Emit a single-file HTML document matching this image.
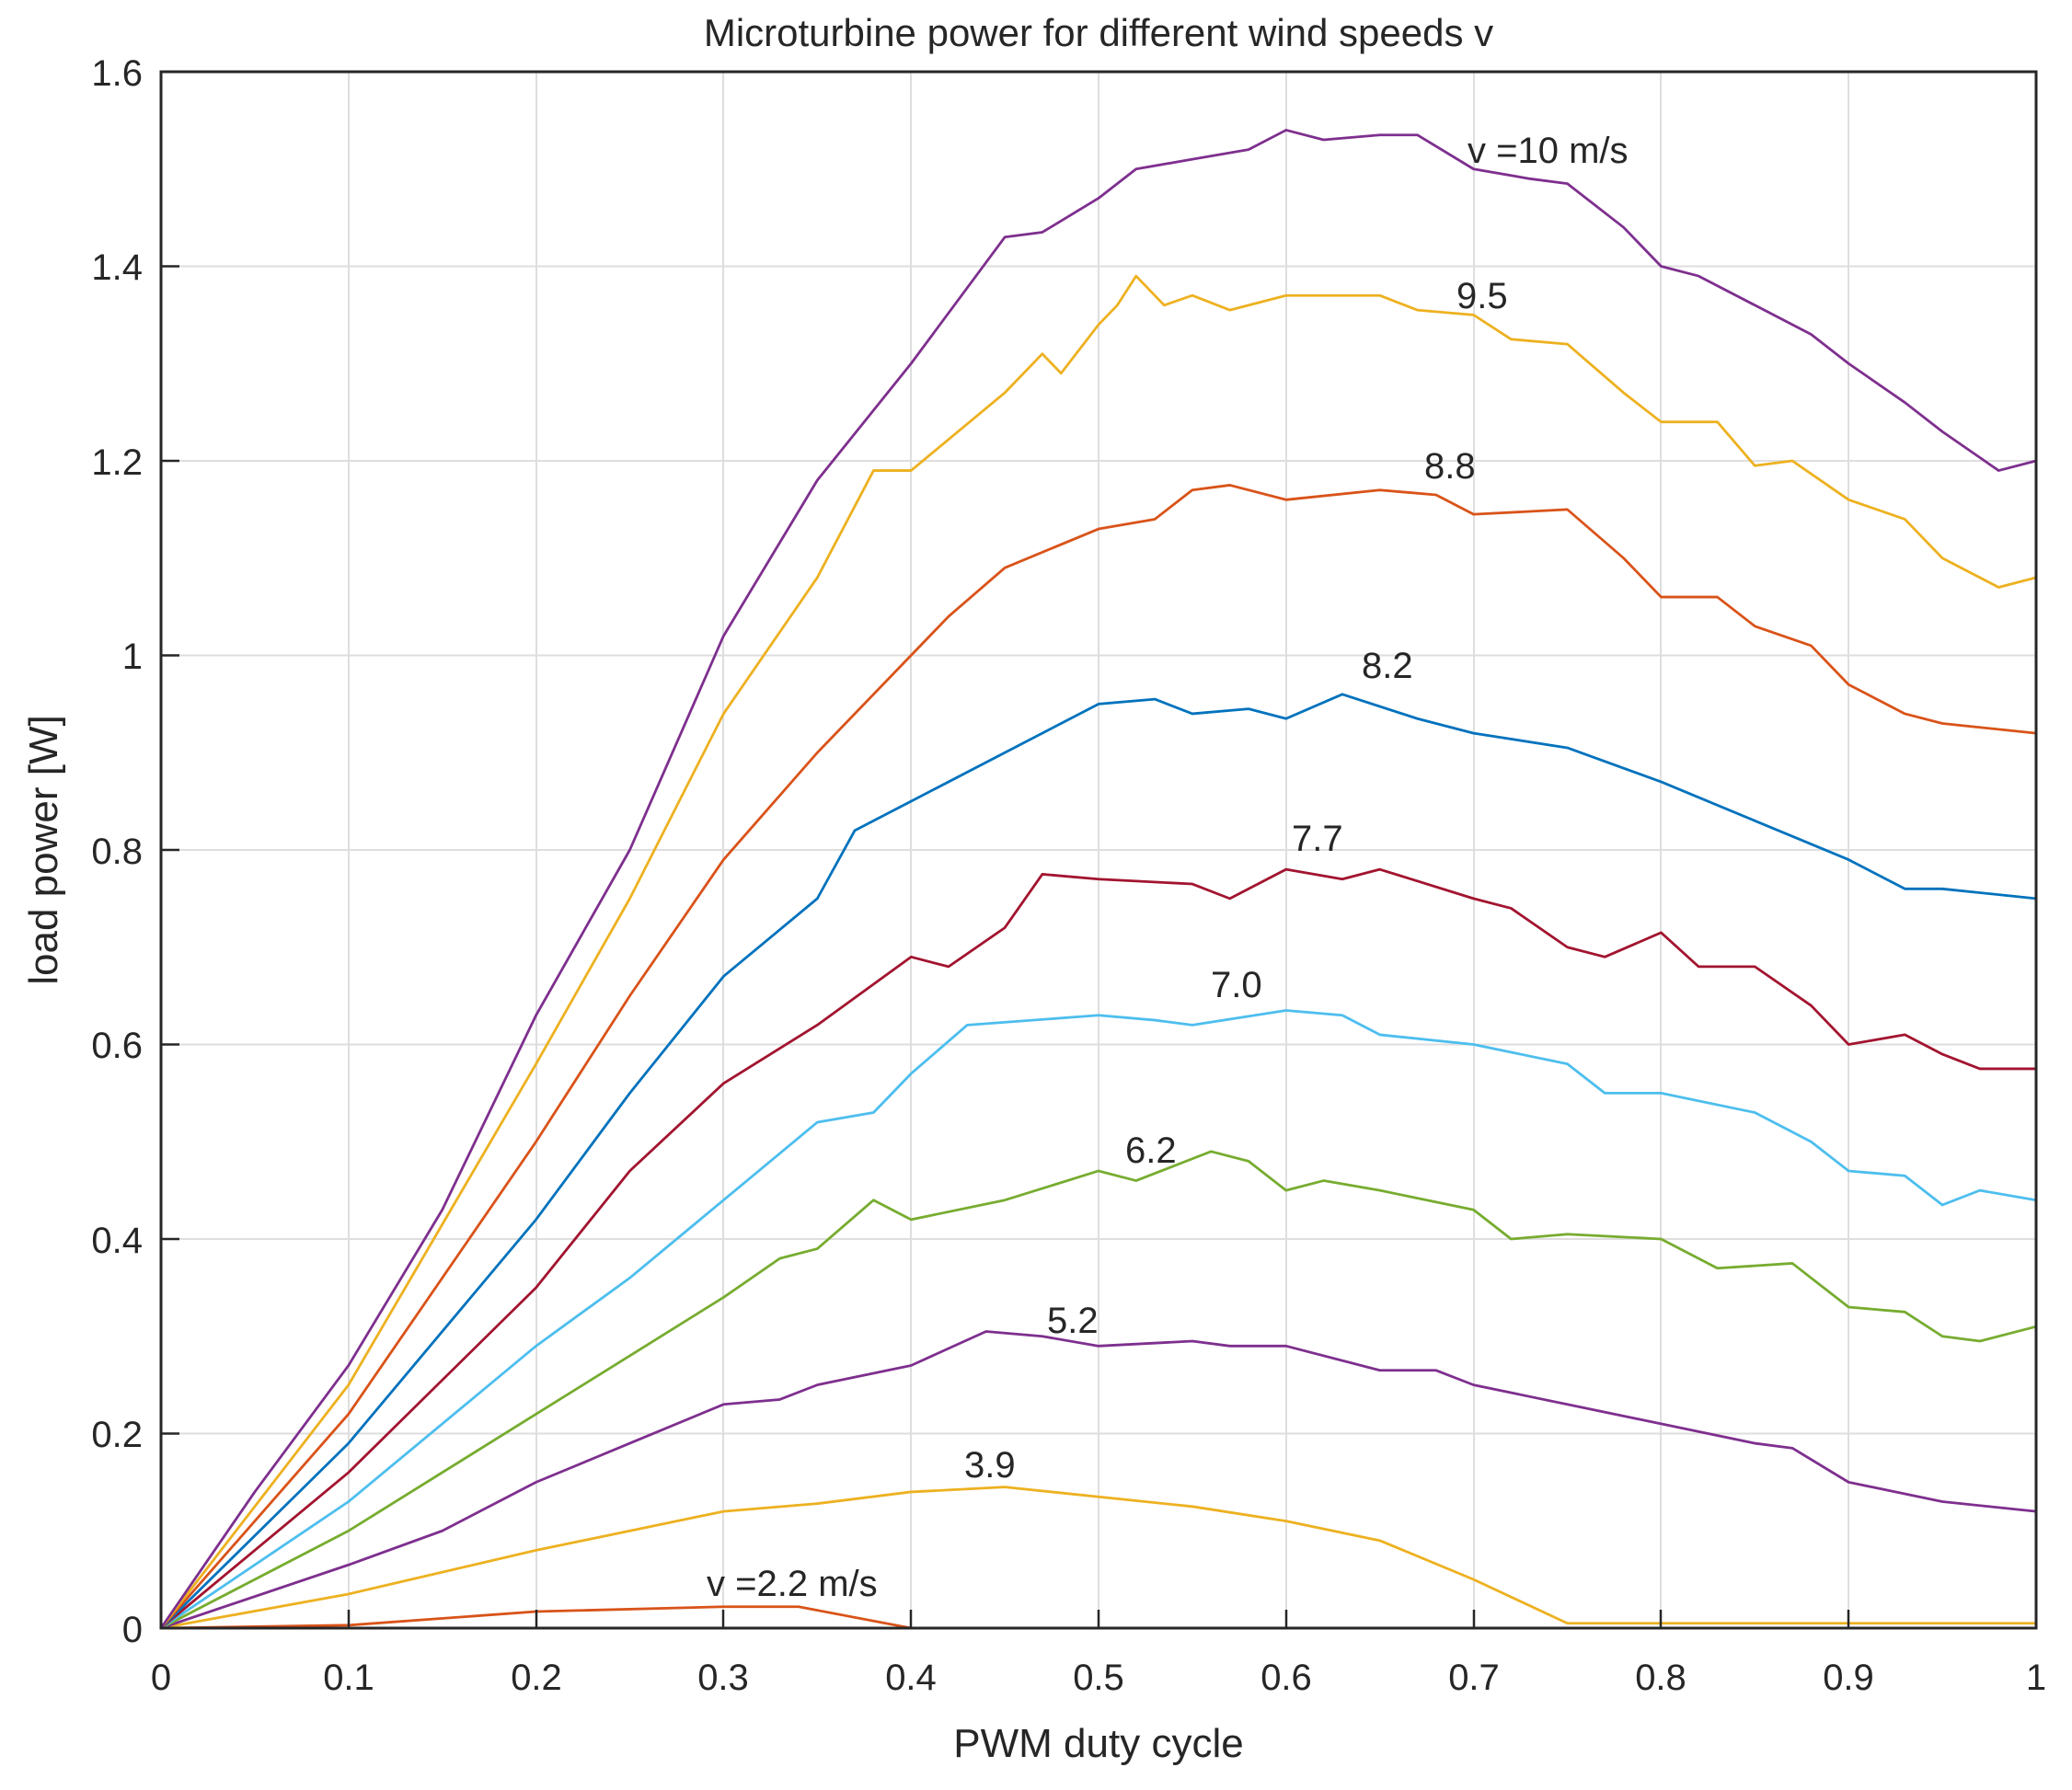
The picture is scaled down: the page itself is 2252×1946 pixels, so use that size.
<!DOCTYPE html>
<html><head><meta charset="utf-8"><style>
html,body{margin:0;padding:0;background:#fff}
svg{display:block}
text{font-family:"Liberation Sans",Arial,sans-serif;fill:#262626}
</style></head><body>
<svg width="2252" height="1946" viewBox="0 0 2252 1946" xmlns="http://www.w3.org/2000/svg">
<rect width="2252" height="1946" fill="#fff"/>
<g stroke="#dedede" stroke-width="2">
<line x1="379" y1="78" x2="379" y2="1770"/><line x1="583" y1="78" x2="583" y2="1770"/>
<line x1="786" y1="78" x2="786" y2="1770"/><line x1="990" y1="78" x2="990" y2="1770"/>
<line x1="1194" y1="78" x2="1194" y2="1770"/><line x1="1398" y1="78" x2="1398" y2="1770"/>
<line x1="1602" y1="78" x2="1602" y2="1770"/><line x1="1805" y1="78" x2="1805" y2="1770"/>
<line x1="2009" y1="78" x2="2009" y2="1770"/>
<line x1="175" y1="1558.5" x2="2213" y2="1558.5"/><line x1="175" y1="1347" x2="2213" y2="1347"/>
<line x1="175" y1="1135.5" x2="2213" y2="1135.5"/><line x1="175" y1="924" x2="2213" y2="924"/>
<line x1="175" y1="712.5" x2="2213" y2="712.5"/><line x1="175" y1="501" x2="2213" y2="501"/>
<line x1="175" y1="289.5" x2="2213" y2="289.5"/>
</g>
<g transform="translate(175,1770) scale(2038,-1057.5)" fill="none" stroke-width="2.8" stroke-linejoin="round">
<polyline vector-effect="non-scaling-stroke" stroke="#D95319" points="0,0 .1,.003 .2,.017 .3,.022 .34,.022 .4,0 1,0"/>
<polyline vector-effect="non-scaling-stroke" stroke="#EDB120" points="0,0 .1,.035 .2,.08 .3,.12 .35,.128 .4,.14 .45,.145 .5,.135 .55,.125 .6,.11 .65,.09 .7,.05 .75,.005 1,.005"/>
<polyline vector-effect="non-scaling-stroke" stroke="#7E2F8E" points="0,0 .1,.065 .15,.1 .2,.15 .25,.19 .3,.23 .33,.235 .35,.25 .4,.27 .44,.305 .47,.3 .5,.29 .55,.295 .57,.29 .6,.29 .65,.265 .68,.265 .7,.25 .75,.23 .8,.21 .85,.19 .87,.185 .9,.15 .95,.13 1,.12"/>
<polyline vector-effect="non-scaling-stroke" stroke="#77AC30" points="0,0 .1,.1 .2,.22 .25,.28 .3,.34 .33,.38 .35,.39 .38,.44 .4,.42 .45,.44 .5,.47 .52,.46 .56,.49 .58,.48 .6,.45 .62,.46 .65,.45 .7,.43 .72,.4 .75,.405 .8,.4 .83,.37 .87,.375 .9,.33 .93,.325 .95,.3 .97,.295 1,.31"/>
<polyline vector-effect="non-scaling-stroke" stroke="#4DBEEE" points="0,0 .1,.13 .2,.29 .25,.36 .3,.44 .35,.52 .38,.53 .4,.57 .43,.62 .5,.63 .53,.625 .55,.62 .6,.635 .63,.63 .65,.61 .7,.6 .75,.58 .77,.55 .8,.55 .85,.53 .88,.5 .9,.47 .93,.465 .95,.435 .97,.45 1,.44"/>
<polyline vector-effect="non-scaling-stroke" stroke="#A2142F" points="0,0 .1,.16 .2,.35 .25,.47 .3,.56 .35,.62 .4,.69 .42,.68 .45,.72 .47,.775 .5,.77 .55,.765 .57,.75 .6,.78 .63,.77 .65,.78 .7,.75 .72,.74 .75,.7 .77,.69 .8,.715 .82,.68 .85,.68 .88,.64 .9,.6 .93,.61 .95,.59 .97,.575 1,.575"/>
<polyline vector-effect="non-scaling-stroke" stroke="#0072BD" points="0,0 .1,.19 .2,.42 .25,.55 .3,.67 .35,.75 .37,.82 .4,.85 .45,.9 .5,.95 .53,.955 .55,.94 .58,.945 .6,.935 .63,.96 .67,.935 .7,.92 .75,.905 .8,.87 .85,.83 .9,.79 .93,.76 .95,.76 1,.75"/>
<polyline vector-effect="non-scaling-stroke" stroke="#D95319" points="0,0 .1,.22 .2,.5 .25,.65 .3,.79 .35,.9 .4,1.0 .42,1.04 .45,1.09 .5,1.13 .53,1.14 .55,1.17 .57,1.175 .6,1.16 .65,1.17 .68,1.165 .7,1.145 .75,1.15 .78,1.1 .8,1.06 .83,1.06 .85,1.03 .88,1.01 .9,.97 .93,.94 .95,.93 1,.92"/>
<polyline vector-effect="non-scaling-stroke" stroke="#EDB120" points="0,0 .1,.25 .2,.58 .25,.75 .3,.94 .35,1.08 .38,1.19 .4,1.19 .45,1.27 .47,1.31 .48,1.29 .5,1.34 .51,1.36 .52,1.39 .535,1.36 .55,1.37 .57,1.355 .6,1.37 .65,1.37 .67,1.355 .7,1.35 .72,1.325 .75,1.32 .78,1.27 .8,1.24 .83,1.24 .85,1.195 .87,1.2 .9,1.16 .93,1.14 .95,1.1 .98,1.07 1,1.08"/>
<polyline vector-effect="non-scaling-stroke" stroke="#7E2F8E" points="0,0 .05,.14 .1,.27 .15,.43 .2,.63 .25,.8 .3,1.02 .35,1.18 .4,1.3 .45,1.43 .47,1.435 .5,1.47 .52,1.5 .55,1.51 .58,1.52 .6,1.54 .62,1.53 .65,1.535 .67,1.535 .7,1.5 .73,1.49 .75,1.485 .78,1.44 .8,1.4 .82,1.39 .85,1.36 .88,1.33 .9,1.3 .93,1.26 .95,1.23 .98,1.19 1,1.2"/>
</g>
<rect x="175" y="78" width="2038" height="1692" fill="none" stroke="#262626" stroke-width="3"/>
<g stroke="#262626" stroke-width="2.5">
<line x1="379" y1="1770" x2="379" y2="1750"/><line x1="583" y1="1770" x2="583" y2="1750"/><line x1="786" y1="1770" x2="786" y2="1750"/><line x1="990" y1="1770" x2="990" y2="1750"/><line x1="1194" y1="1770" x2="1194" y2="1750"/><line x1="1398" y1="1770" x2="1398" y2="1750"/><line x1="1602" y1="1770" x2="1602" y2="1750"/><line x1="1805" y1="1770" x2="1805" y2="1750"/><line x1="2009" y1="1770" x2="2009" y2="1750"/>
<line x1="175" y1="1558.5" x2="195" y2="1558.5"/><line x1="175" y1="1347" x2="195" y2="1347"/><line x1="175" y1="1135.5" x2="195" y2="1135.5"/><line x1="175" y1="924" x2="195" y2="924"/><line x1="175" y1="712.5" x2="195" y2="712.5"/><line x1="175" y1="501" x2="195" y2="501"/><line x1="175" y1="289.5" x2="195" y2="289.5"/>
</g>
<g font-size="40" text-anchor="end">
<text x="155" y="1785">0</text><text x="155" y="1573">0.2</text><text x="155" y="1362">0.4</text><text x="155" y="1150">0.6</text><text x="155" y="939">0.8</text><text x="155" y="727">1</text><text x="155" y="516">1.2</text><text x="155" y="304">1.4</text><text x="155" y="93">1.6</text>
</g>
<g font-size="40" text-anchor="middle">
<text x="175" y="1837">0</text><text x="379" y="1837">0.1</text><text x="583" y="1837">0.2</text><text x="786" y="1837">0.3</text><text x="990" y="1837">0.4</text><text x="1194" y="1837">0.5</text><text x="1398" y="1837">0.6</text><text x="1602" y="1837">0.7</text><text x="1805" y="1837">0.8</text><text x="2009" y="1837">0.9</text><text x="2213" y="1837">1</text>
<text x="1194" y="1910" font-size="44">PWM duty cycle</text>
<text x="1194" y="50" font-size="42">Microturbine power for different wind speeds v</text>
<text transform="translate(62,924) rotate(-90)" font-size="44">load power [W]</text>
</g>
<g font-size="40">
<text x="1595" y="177">v =10 m/s</text>
<text x="1583" y="335">9.5</text>
<text x="1548" y="520">8.8</text>
<text x="1480" y="737">8.2</text>
<text x="1404" y="925">7.7</text>
<text x="1316" y="1084">7.0</text>
<text x="1223" y="1264">6.2</text>
<text x="1138" y="1449">5.2</text>
<text x="1048" y="1606">3.9</text>
<text x="768" y="1735">v =2.2 m/s</text>
</g>
</svg>
</body></html>
